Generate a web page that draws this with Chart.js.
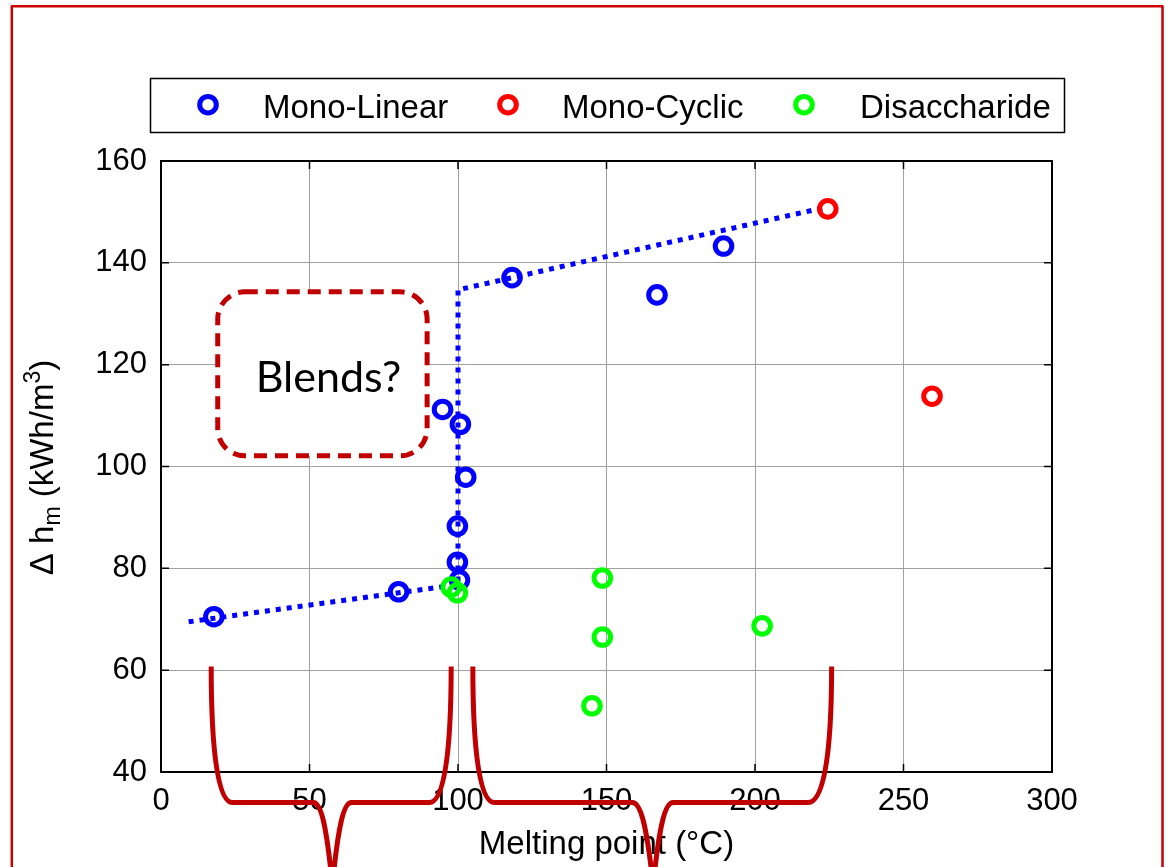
<!DOCTYPE html>
<html>
<head>
<meta charset="utf-8">
<script src="https://cdn.jsdelivr.net/npm/chart.js@4.4.1/dist/chart.umd.min.js"></script>
<style>
  html, body { margin: 0; padding: 0; background: #ffffff; }
  #wrap { width: 1166px; height: 867px; position: relative; overflow: hidden; }
</style>
</head>
<body>
<div id="wrap"><canvas id="c" width="1166" height="867"></canvas></div>
<script>
// Melting enthalpy of sugar alcohols versus melting point
const seriesNames = ['Mono-Linear', 'Mono-Cyclic', 'Disaccharide'];
const seriesColors = ['#0000ff', '#ff0000', '#00ff00'];

const monoLinearX = [17.8, 80.0, 94.8, 100.8, 102.6, 99.8, 99.8, 100.5, 118.2, 167.0, 189.4];
const monoLinearY = [70.5, 75.4, 111.2, 108.3, 97.9, 88.3, 81.2, 77.7, 137.1, 133.7, 143.3];

const monoCyclicX = [224.5, 259.6];
const monoCyclicY = [150.6, 113.8];

const disaccharideX = [97.7, 99.8, 145.1, 148.6, 148.6, 202.4];
const disaccharideY = [76.3, 75.2, 53.0, 78.1, 66.5, 68.7];

// dotted guide through the linear monosaccharides
const trendX = [9.3, 100, 100, 224.5];
const trendY = [69.5, 76.8, 134.7, 151.0];

const xTickValues = [0, 50, 100, 150, 200, 250, 300];
const yTickValues = [40, 60, 80, 100, 120, 140, 160];

const FONT = "'Liberation Sans', Arial, sans-serif";
const DARK_RED = '#c00000';

function pts(xs, ys) { return xs.map((x, i) => ({ x: x, y: ys[i] })); }

// schematic melting-peak traces (x, y in axis units)
const peakTraces = [
  { xs: 16.9, xcl: 24.0, xdl: 51.3, xd: 57.7, xdr: 64.1, xcr: 90.4, xe: 97.7 },
  { xs: 105.0, xcl: 112.2, xdl: 158.7, xd: 165.7, xdr: 172.4, xcr: 217.9, xe: 225.8 }
];
const peakTop = 60.7, peakBase = 34.0, peakTip = 17.8;

// "Blends?" region, in axis units
const blendBox = { x0: 19.1, x1: 89.6, y0: 102.1, y1: 134.3, labelX: 56.4 };

const decor = {
  id: 'decor',
  beforeDatasetsDraw(chart) {
    const ctx = chart.ctx, xs = chart.scales.x, ys = chart.scales.y;
    const l = xs.getPixelForValue(blendBox.x0), r = xs.getPixelForValue(blendBox.x1);
    const t = ys.getPixelForValue(blendBox.y1), b = ys.getPixelForValue(blendBox.y0);
    ctx.save();
    ctx.beginPath();
    ctx.roundRect(l, t, r - l, b - t, 27);
    ctx.fillStyle = '#ffffff';
    ctx.fill();
    ctx.setLineDash([13, 8]);
    ctx.lineWidth = 5;
    ctx.strokeStyle = DARK_RED;
    ctx.stroke();
    ctx.setLineDash([]);
    ctx.font = "43px Lato, 'Open Sans', sans-serif";
    ctx.fillStyle = '#000000';
    ctx.textAlign = 'center';
    ctx.textBaseline = 'alphabetic';
    const m = ctx.measureText('Blends?');
    const mid = (t + b) / 2;
    ctx.fillText('Blends?', xs.getPixelForValue(blendBox.labelX), mid + m.actualBoundingBoxAscent / 2 + 3);
    ctx.restore();
  },
  afterDraw(chart) {
    const ctx = chart.ctx, a = chart.chartArea, xs = chart.scales.x, ys = chart.scales.y;
    ctx.save();

    // axes box
    ctx.strokeStyle = '#000000';
    ctx.lineWidth = 2;
    ctx.strokeRect(a.left, a.top, a.right - a.left, a.bottom - a.top);

    // inward tick marks on all four sides
    ctx.lineWidth = 1.5;
    ctx.beginPath();
    xTickValues.forEach(v => {
      const px = xs.getPixelForValue(v);
      ctx.moveTo(px, a.bottom); ctx.lineTo(px, a.bottom - 8);
      ctx.moveTo(px, a.top); ctx.lineTo(px, a.top + 8);
    });
    yTickValues.forEach(v => {
      const py = ys.getPixelForValue(v);
      ctx.moveTo(a.left, py); ctx.lineTo(a.left + 8, py);
      ctx.moveTo(a.right, py); ctx.lineTo(a.right - 8, py);
    });
    ctx.stroke();

    // melting-peak traces
    ctx.strokeStyle = DARK_RED;
    ctx.lineWidth = 5;
    ctx.lineJoin = 'round';
    ctx.lineCap = 'butt';
    const yt = ys.getPixelForValue(peakTop), yb = ys.getPixelForValue(peakBase), yd = ys.getPixelForValue(peakTip);
    const h = yb - yt;
    peakTraces.forEach(p => {
      const X = k => xs.getPixelForValue(p[k]);
      const xs0 = X('xs'), xcl = X('xcl'), xdl = X('xdl'), xd = X('xd'), xdr = X('xdr'), xcr = X('xcr'), xe = X('xe');
      const wl = xcl - xs0, wr = xe - xcr;
      ctx.beginPath();
      ctx.moveTo(xs0, yt);
      ctx.bezierCurveTo(xs0, yt + 0.6 * h, xs0 + 0.3 * wl, yb, xcl, yb);
      ctx.lineTo(xdl, yb);
      ctx.bezierCurveTo(xdl + 0.42 * (xd - xdl), yb, xd - 0.3 * (xd - xdl), yb + 0.3 * (yd - yb), xd, yd);
      ctx.bezierCurveTo(xd + 0.3 * (xdr - xd), yb + 0.3 * (yd - yb), xdr - 0.42 * (xdr - xd), yb, xdr, yb);
      ctx.lineTo(xcr, yb);
      ctx.bezierCurveTo(xe - 0.3 * wr, yb, xe, yt + 0.6 * h, xe, yt);
      ctx.stroke();
    });

    // legend
    ctx.fillStyle = '#ffffff';
    ctx.fillRect(150, 78, 915, 54);
    ctx.strokeStyle = '#000000';
    ctx.lineWidth = 1.5;
    ctx.strokeRect(150.5, 78.5, 914, 54);
    const markX = [208, 508, 804], textX = [263, 562, 860];
    ctx.font = '33px ' + FONT;
    ctx.textAlign = 'left';
    ctx.textBaseline = 'alphabetic';
    seriesNames.forEach((name, i) => {
      ctx.beginPath();
      ctx.arc(markX[i], 104.7, 8.3, 0, Math.PI * 2);
      ctx.strokeStyle = seriesColors[i];
      ctx.lineWidth = 5;
      ctx.stroke();
      ctx.fillStyle = '#000000';
      ctx.fillText(name, textX[i], 118);
    });

    // y-axis title with subscript and superscript
    ctx.save();
    ctx.translate(53, (a.top + a.bottom) / 2 + 1);
    ctx.rotate(-Math.PI / 2);
    const big = '33px ' + FONT, small = '23px ' + FONT;
    const parts = [['\u0394 h', big, 0], ['m', small, 7], [' (kWh/m', big, 0], ['3', small, -13], [')', big, 0]];
    let total = 0;
    parts.forEach(p => { ctx.font = p[1]; total += ctx.measureText(p[0]).width; });
    let cx = -total / 2;
    ctx.fillStyle = '#000000';
    ctx.textAlign = 'left';
    parts.forEach(p => { ctx.font = p[1]; ctx.fillText(p[0], cx, p[2]); cx += ctx.measureText(p[0]).width; });
    ctx.restore();

    // outer frame
    ctx.strokeStyle = '#cc0000';
    ctx.lineWidth = 2.5;
    ctx.strokeRect(11.8, 6.2, 1150.7, 900);

    ctx.restore();
  }
};

new Chart(document.getElementById('c'), {
  type: 'scatter',
  data: {
    datasets: [
      {
        label: 'trend',
        data: pts(trendX, trendY),
        showLine: true,
        borderColor: '#0000ff',
        borderWidth: 5,
        borderDash: [5, 6],
        borderCapStyle: 'butt',
        pointRadius: 0,
        fill: false,
        order: 4
      },
      {
        label: seriesNames[0],
        data: pts(monoLinearX, monoLinearY),
        pointStyle: 'circle',
        pointRadius: 8.3,
        pointBorderWidth: 5,
        pointBorderColor: seriesColors[0],
        pointBackgroundColor: 'rgba(0,0,0,0)',
        order: 3
      },
      {
        label: seriesNames[1],
        data: pts(monoCyclicX, monoCyclicY),
        pointStyle: 'circle',
        pointRadius: 8.3,
        pointBorderWidth: 5,
        pointBorderColor: seriesColors[1],
        pointBackgroundColor: 'rgba(0,0,0,0)',
        order: 2
      },
      {
        label: seriesNames[2],
        data: pts(disaccharideX, disaccharideY),
        pointStyle: 'circle',
        pointRadius: 8.3,
        pointBorderWidth: 5,
        pointBorderColor: seriesColors[2],
        pointBackgroundColor: 'rgba(0,0,0,0)',
        order: 1
      }
    ]
  },
  options: {
    responsive: false,
    animation: false,
    devicePixelRatio: 1,
    layout: { padding: { top: 161, right: 114, bottom: 0, left: 0 } },
    plugins: { legend: { display: false }, tooltip: { enabled: false } },
    scales: {
      x: {
        type: 'linear',
        min: 0,
        max: 300,
        afterBuildTicks: s => { s.ticks = xTickValues.map(v => ({ value: v })); },
        afterFit: s => { s.height = 95; },
        grid: { color: '#a0a0a0', lineWidth: 1, drawTicks: false },
        border: { display: false },
        ticks: { padding: 11, color: '#000000', font: { family: FONT, size: 31 } },
        title: {
          display: true,
          text: 'Melting point (°C)',
          color: '#000000',
          font: { family: FONT, size: 33 },
          padding: { top: 0, bottom: 2 }
        }
      },
      y: {
        type: 'linear',
        min: 40,
        max: 160,
        afterBuildTicks: s => { s.ticks = yTickValues.map(v => ({ value: v })); },
        afterFit: s => { s.width = 161; },
        grid: { color: '#a0a0a0', lineWidth: 1, drawTicks: false },
        border: { display: false },
        ticks: { padding: 14, color: '#000000', font: { family: FONT, size: 31 } }
      }
    }
  },
  plugins: [decor]
});
</script>
</body>
</html>
